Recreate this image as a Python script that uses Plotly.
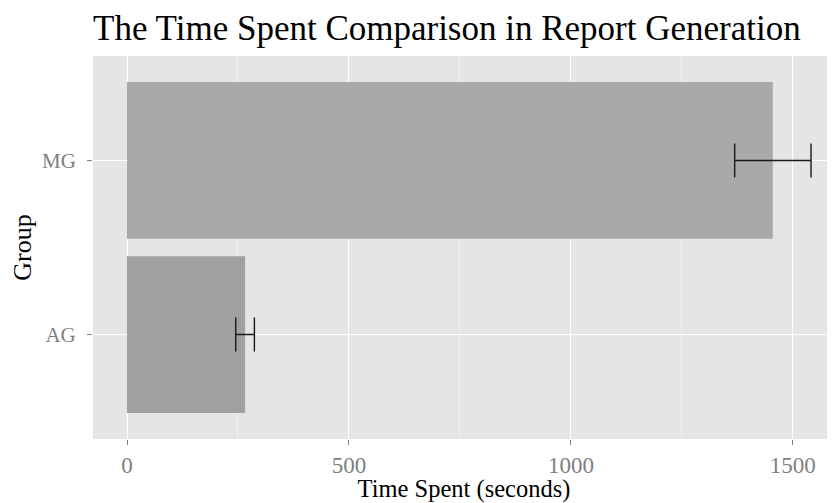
import plotly.graph_objects as go

groups = ["AG", "MG"]
time_spent = [266, 1455]
errors = [21, 86]
bar_colors = ["#a0a0a0", "#a9a9a9"]

FONT = "Liberation Serif"

# the page body adds an 8px margin, so the figure is 8px smaller on each used side
W, H = 827, 495

fig = go.Figure()
fig.add_trace(go.Bar(
    y=groups, x=time_spent, orientation="h",
    marker=dict(color=bar_colors, line=dict(width=0)),
    width=0.9,
    error_x=dict(type="data", array=errors, visible=True,
                 color="#1a1a1a", thickness=1.4, width=17),
    hoverinfo="x+y",
))

fig.update_layout(
    width=W, height=H,
    margin=dict(l=85, r=0, t=48, b=64, autoexpand=False),
    paper_bgcolor="white",
    plot_bgcolor="#e5e5e5",
    showlegend=False,
    font=dict(family=FONT, color="black"),
    title=dict(text="The Time Spent Comparison in Report Generation",
               x=0, xref="paper", xanchor="left",
               y=1 - 32 / H, yref="container", yanchor="bottom",
               font=dict(size=35, family=FONT, color="black"),
               pad=dict(b=0)),
    xaxis=dict(
        range=[-76.6, 1595],
        tickvals=[0, 500, 1000, 1500],
        ticktext=["0", "500", "1000", "1500"],
        showgrid=True, gridcolor="white", gridwidth=1.3,
        minor=dict(dtick=250, tick0=0, showgrid=True,
                   gridcolor="#f2f2f2", gridwidth=0.6, ticks=""),
        zeroline=False,
        ticks="outside", ticklen=5, tickcolor="#7f7f7f", tickwidth=1,
        ticklabelstandoff=0,
        tickfont=dict(size=23, color="#7f7f7f", family=FONT),
        title=dict(text="Time Spent (seconds)", standoff=0,
                   font=dict(size=24.5, color="black", family=FONT)),
        showline=False,
        automargin=False,
    ),
    yaxis=dict(
        categoryorder="array", categoryarray=groups,
        range=[-0.6, 1.6],
        showgrid=True, gridcolor="white", gridwidth=1.3,
        zeroline=False,
        ticks="outside", ticklen=5, tickcolor="#7f7f7f", tickwidth=1,
        ticklabelstandoff=7,
        tickfont=dict(size=21, color="#7f7f7f", family=FONT),
        title=dict(text="Group", standoff=12,
                   font=dict(size=26, color="black", family=FONT)),
        showline=False,
        automargin=False,
    ),
)

fig.write_html("out.html")
